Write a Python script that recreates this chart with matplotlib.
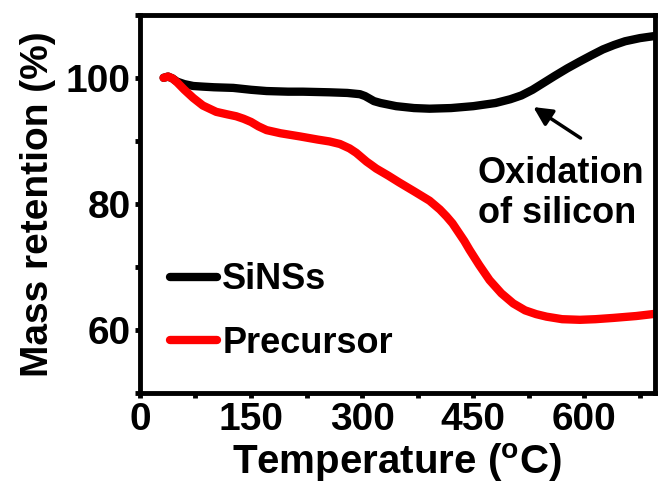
import matplotlib
matplotlib.use('Agg')
from matplotlib import pyplot as plt
import matplotlib.ticker as mtick

# SiNSs curve (temperature in C, mass retention in %)
sinss_T = [32, 38, 44, 50, 60, 72, 85, 100, 126, 150, 171, 200, 220, 256, 280, 297, 304,
           310, 316, 325, 346, 370, 391, 420, 450, 480, 500, 515, 530, 545, 560, 577, 594,
           610, 625, 640, 655, 675, 699]
sinss_M = [100.0, 100.2, 99.9, 99.4, 99.0, 98.7, 98.6, 98.5, 98.4, 98.1, 97.9, 97.8, 97.8,
           97.7, 97.6, 97.4, 97.1, 96.7, 96.3, 96.0, 95.5, 95.2, 95.1, 95.2, 95.5, 96.0, 96.6,
           97.2, 98.1, 99.2, 100.3, 101.5, 102.6, 103.6, 104.5, 105.2, 105.8, 106.3, 106.7]

# Precursor curve
prec_T = [32, 38, 44, 50, 60, 72, 85, 103, 118, 130, 140, 150, 160, 171, 190, 216, 240,
          256, 270, 283, 292, 300, 306, 312, 319, 335, 350, 370, 391, 405, 414, 422, 430,
          438, 445, 458, 472, 488, 504, 520, 535, 549, 570, 594, 615, 639, 670, 699]
prec_M = [100.0, 100.2, 99.9, 99.3, 98.1, 96.8, 95.6, 94.6, 94.2, 93.9, 93.5, 93.0, 92.3,
          91.7, 91.2, 90.7, 90.2, 89.9, 89.5, 88.8, 88.1, 87.3, 86.7, 86.2, 85.6, 84.5, 83.4,
          82.0, 80.5, 79.1, 78.0, 76.9, 75.5, 74.1, 72.7, 70.3, 67.9, 65.8, 64.2, 63.1, 62.5,
          62.1, 61.7, 61.6, 61.7, 61.9, 62.2, 62.6]

x_ticks = [0, 150, 300, 450, 600]
y_ticks = [60, 80, 100]

plt.rcParams['font.family'] = ['Liberation Sans', 'DejaVu Sans']
plt.rcParams['font.weight'] = 'bold'
plt.rcParams['mathtext.default'] = 'regular'

fig = plt.figure(figsize=(6.6, 4.93), dpi=100)
ax = fig.add_axes([0.212, 0.203, 0.780, 0.767])

ax.plot(sinss_T, sinss_M, color='black', linewidth=6, solid_capstyle='round', label='SiNSs')
ax.plot(prec_T, prec_M, color='red', linewidth=6, solid_capstyle='round', label='Precursor')

ax.set_xlim(0, 695)
ax.set_ylim(50, 110)
ax.set_xticks(x_ticks)
ax.set_yticks(y_ticks)
ax.xaxis.set_minor_locator(mtick.MultipleLocator(75))
ax.yaxis.set_minor_locator(mtick.MultipleLocator(10))

for s in ax.spines.values():
    s.set_linewidth(3.5)
ax.tick_params(which='both', direction='out', length=3.5, width=3.5, labelsize=28, pad=3)

ax.set_xlabel(r'Temperature ($^\mathregular{o}$C)', fontsize=29, fontweight='bold', labelpad=2)
ax.set_ylabel('Mass retention (%)', fontsize=28, fontweight='bold', labelpad=7)

ax.annotate('', xy=(528, 95.6), xytext=(598, 90.2),
            arrowprops=dict(arrowstyle='-|>', color='black', lw=2.5, mutation_scale=28))
ax.text(456, 81.6, 'Oxidation\nof silicon', fontsize=26, fontweight='bold',
        ha='left', va='center', linespacing=1.2)

ax.legend(loc='upper left', bbox_to_anchor=(0.058, 0.345), frameon=False, fontsize=26,
          handlelength=1.3, handletextpad=0.15, borderpad=0, borderaxespad=0,
          labelspacing=0.78)

plt.savefig('out.png', dpi=100)
